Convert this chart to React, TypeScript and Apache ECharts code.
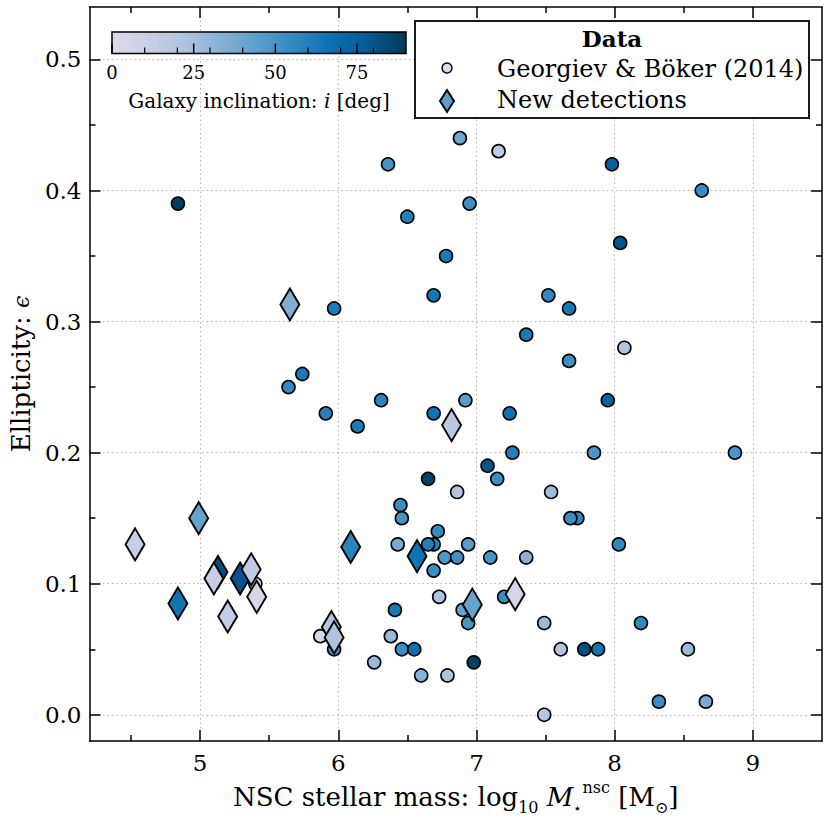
import React, { useEffect, useRef } from "react";
import * as echarts from "echarts";

// Georgiev & Böker (2014): log10 NSC mass, ellipticity, galaxy inclination [deg]
const gbMass = [4.84, 5.64, 5.74, 5.91, 5.97, 6.14, 6.31, 6.36, 6.50, 6.69, 6.78, 6.69, 6.92, 6.88, 6.95, 7.16, 7.24, 7.26, 7.36, 7.52, 7.67, 7.67, 7.98, 8.04, 8.63, 8.07, 7.95, 7.85, 8.87, 7.08, 7.15, 6.65, 6.86, 7.54, 7.73, 7.68, 6.72, 6.69, 6.65, 6.94, 6.45, 6.46, 6.43, 6.77, 6.86, 7.10, 7.36, 6.69, 6.73, 7.20, 6.90, 6.94, 7.49, 6.41, 6.38, 6.46, 6.55, 6.26, 6.60, 6.79, 6.98, 7.61, 7.78, 7.88, 8.03, 8.19, 8.53, 8.32, 8.66, 7.49, 5.87, 5.97, 5.40];
const gbEll = [0.39, 0.25, 0.26, 0.23, 0.31, 0.22, 0.24, 0.42, 0.38, 0.32, 0.35, 0.23, 0.24, 0.44, 0.39, 0.43, 0.23, 0.20, 0.29, 0.32, 0.31, 0.27, 0.42, 0.36, 0.40, 0.28, 0.24, 0.20, 0.20, 0.19, 0.18, 0.18, 0.17, 0.17, 0.15, 0.15, 0.14, 0.13, 0.13, 0.13, 0.16, 0.15, 0.13, 0.12, 0.12, 0.12, 0.12, 0.11, 0.09, 0.09, 0.08, 0.07, 0.07, 0.08, 0.06, 0.05, 0.05, 0.04, 0.03, 0.03, 0.04, 0.05, 0.05, 0.05, 0.13, 0.07, 0.05, 0.01, 0.01, 0.00, 0.06, 0.05, 0.10];
const gbInc = [88, 55, 63, 60, 62, 62, 58, 50, 60, 64, 63, 66, 45, 40, 52, 15, 67, 60, 63, 56, 63, 52, 75, 80, 53, 22, 74, 49, 49, 80, 53, 86, 22, 27, 55, 53, 55, 58, 60, 45, 53, 50, 37, 48, 52, 50, 33, 53, 22, 53, 42, 50, 28, 63, 28, 53, 67, 28, 33, 22, 88, 20, 82, 65, 56, 56, 28, 53, 37, 20, 3, 52, 8];

// New detections
const ndMass = [4.53, 4.99, 4.84, 5.13, 5.10, 5.29, 5.37, 5.41, 5.20, 5.65, 6.09, 6.57, 5.95, 5.97, 6.82, 6.97, 7.28];
const ndEll = [0.130, 0.150, 0.085, 0.109, 0.104, 0.104, 0.111, 0.090, 0.075, 0.313, 0.128, 0.121, 0.067, 0.059, 0.221, 0.084, 0.092];
const ndInc = [12, 42, 65, 82, 12, 80, 15, 3, 13, 35, 58, 66, 22, 22, 18, 42, 5];

const xMajorTicks = [5, 6, 7, 8, 9];
const xMinorTicks = [4.5, 5.5, 6.5, 7.5, 8.5];
const yMajorTicks = [0, 0.1, 0.2, 0.3, 0.4, 0.5];
const yMinorTicks = [0.05, 0.15, 0.25, 0.35, 0.45];
const cbarMajor = [0, 25, 50, 75];
const cbarMinor = [10, 20, 30, 40, 60, 70, 80];
const cbarMin = 0;
const cbarMax = 90;
const cmap = ["#dcdaeb", "#c8cfe5", "#aec3de", "#84b1d5", "#5a9dca", "#2f88bf", "#0a70b0", "#055990", "#023858"];

const FONT = "DejaVu Serif";
const XMIN = 4.2, XMAX = 9.5, YMIN = -0.02, YMAX = 0.54;

function makeX(position: string, ticks: number[], len: number, main: boolean, line: boolean) {
  return {
    type: "value",
    gridIndex: 0,
    position,
    min: XMIN,
    max: XMAX,
    axisLine: { show: line, onZero: false, lineStyle: { color: "#000", width: 1.5 } },
    axisTick: { show: true, inside: true, length: len, customValues: ticks, lineStyle: { color: "#000", width: 1.5 } },
    axisLabel: main
      ? { show: true, customValues: ticks, margin: 10, color: "#000", fontFamily: FONT, fontSize: 23 }
      : { show: false },
    splitLine: main
      ? { show: true, lineStyle: { color: "#b4b4b4", width: 1, type: [1.5, 3] } }
      : { show: false },
    minorTick: { show: false },
  } as any;
}

function makeY(position: string, ticks: number[], len: number, main: boolean, line: boolean) {
  return {
    type: "value",
    gridIndex: 0,
    position,
    min: YMIN,
    max: YMAX,
    axisLine: { show: line, onZero: false, lineStyle: { color: "#000", width: 1.5 } },
    axisTick: { show: true, inside: true, length: len, customValues: ticks, lineStyle: { color: "#000", width: 1.5 } },
    axisLabel: main
      ? {
          show: true,
          customValues: ticks,
          margin: 8,
          color: "#000",
          fontFamily: FONT,
          fontSize: 23,
          formatter: (v: number) => v.toFixed(1),
        }
      : { show: false },
    splitLine: main
      ? { show: true, lineStyle: { color: "#b4b4b4", width: 1, type: [1.5, 3] } }
      : { show: false },
    minorTick: { show: false },
  } as any;
}

export default function App() {
  const ref = useRef<HTMLDivElement>(null);

  useEffect(() => {
    document.body.style.margin = "0";
    if (!ref.current) return;
    const chart = echarts.init(ref.current, null, { renderer: "svg" });

    const gbData = gbMass.map((m, i) => [m, gbEll[i], gbInc[i]]);
    const ndData = ndMass.map((m, i) => [m, ndEll[i], ndInc[i]]);

    const xBottom = makeX("bottom", xMajorTicks, 11, true, true);
    xBottom.name = "{t|NSC stellar mass: log}{sub|10}{t| }{it|M}{star|⋆}{sup|nsc}{t| [M}{sub|⊙}{t|]}";
    xBottom.nameLocation = "middle";
    xBottom.nameGap = 38;
    xBottom.nameTextStyle = {
      color: "#000",
      rich: {
        t: { fontFamily: FONT, fontSize: 26, lineHeight: 36, color: "#000" },
        it: { fontFamily: FONT, fontSize: 26, lineHeight: 36, fontStyle: "italic", color: "#000" },
        sub: { fontFamily: FONT, fontSize: 16, lineHeight: 16, verticalAlign: "bottom", color: "#000" },
        star: { fontFamily: FONT, fontSize: 14, lineHeight: 16, verticalAlign: "bottom", color: "#000" },
        sup: { fontFamily: FONT, fontSize: 16, lineHeight: 16, verticalAlign: "top", color: "#000" },
      },
    };

    const yLeft = makeY("left", yMajorTicks, 11, true, true);
    yLeft.name = "{t|Ellipticity: }{e|ϵ}";
    yLeft.nameLocation = "middle";
    yLeft.nameGap = 50;
    yLeft.nameTextStyle = {
      color: "#000",
      rich: {
        t: { fontFamily: FONT, fontSize: 26, color: "#000" },
        e: { fontFamily: FONT, fontSize: 22, fontStyle: "italic", color: "#000" },
      },
    };

    const cbX = 112, cbY = 32, cbW = 294, cbH = 21.5;
    const cbPos = (v: number) => cbX + ((v - cbarMin) / (cbarMax - cbarMin)) * cbW;
    const gradStops = cmap.map((c, i) => ({ offset: i / (cmap.length - 1), color: c }));

    const graphic: any[] = [
      {
        type: "rect",
        z: 50,
        shape: { x: cbX, y: cbY, width: cbW, height: cbH },
        style: { fill: new echarts.graphic.LinearGradient(0, 0, 1, 0, gradStops), stroke: "#000", lineWidth: 1.5 },
      },
      ...cbarMajor.map((v) => ({
        type: "line",
        z: 51,
        shape: { x1: cbPos(v), y1: cbY + cbH, x2: cbPos(v), y2: cbY + cbH - 10 },
        style: { stroke: "#000", lineWidth: 1.5 },
      })),
      ...cbarMinor.map((v) => ({
        type: "line",
        z: 51,
        shape: { x1: cbPos(v), y1: cbY + cbH, x2: cbPos(v), y2: cbY + cbH - 6 },
        style: { stroke: "#000", lineWidth: 1.2 },
      })),
      ...cbarMajor.map((v) => ({
        type: "text",
        z: 51,
        x: cbPos(v),
        y: 72,
        style: { text: String(v), fontFamily: FONT, fontSize: 18, fill: "#000", align: "center", verticalAlign: "middle" },
      })),
      {
        type: "text",
        z: 51,
        x: 259,
        y: 101,
        style: {
          text: "{a|Galaxy inclination: }{i|i}{a| [deg]}",
          align: "center",
          verticalAlign: "middle",
          rich: {
            a: { fontFamily: FONT, fontSize: 20, fill: "#000", color: "#000" },
            i: { fontFamily: FONT, fontSize: 20, fontStyle: "italic", fill: "#000", color: "#000" },
          },
        },
      },
      // legend box
      {
        type: "rect",
        z: 100,
        shape: { x: 415, y: 21, width: 394, height: 97 },
        style: { fill: "#fff", stroke: "#1a1a1a", lineWidth: 2 },
      },
      {
        type: "text",
        z: 101,
        x: 612,
        y: 38,
        style: { text: "Data", fontFamily: FONT, fontSize: 23, fontWeight: "bold", fill: "#000", align: "center", verticalAlign: "middle" },
      },
      {
        type: "circle",
        z: 101,
        shape: { cx: 447, cy: 68, r: 5 },
        style: { fill: cmap[0], stroke: "#000", lineWidth: 1.5 },
      },
      {
        type: "text",
        z: 101,
        x: 497,
        y: 69,
        style: { text: "Georgiev & Böker (2014)", fontFamily: FONT, fontSize: 24, fill: "#000", align: "left", verticalAlign: "middle" },
      },
      {
        type: "polygon",
        z: 101,
        shape: { points: [[447, 90], [454, 101], [447, 112], [440, 101]] },
        style: { fill: cmap[4], stroke: "#000", lineWidth: 2 },
      },
      {
        type: "text",
        z: 101,
        x: 497,
        y: 100,
        style: { text: "New detections", fontFamily: FONT, fontSize: 24, fill: "#000", align: "left", verticalAlign: "middle" },
      },
    ];

    const option: any = {
      animation: false,
      backgroundColor: "#ffffff",
      textStyle: { fontFamily: FONT },
      grid: { left: 88, top: 7, width: 734, height: 734 },
      xAxis: [
        xBottom,
        makeX("bottom", xMinorTicks, 6, false, false),
        makeX("top", xMajorTicks, 11, false, true),
        makeX("top", xMinorTicks, 6, false, false),
      ],
      yAxis: [
        yLeft,
        makeY("left", yMinorTicks, 6, false, false),
        makeY("right", yMajorTicks, 11, false, true),
        makeY("right", yMinorTicks, 6, false, false),
      ],
      visualMap: {
        type: "continuous",
        show: false,
        min: cbarMin,
        max: cbarMax,
        dimension: 2,
        seriesIndex: [0, 1],
        inRange: { color: cmap },
      },
      series: [
        {
          name: "Georgiev & Böker (2014)",
          type: "scatter",
          xAxisIndex: 0,
          yAxisIndex: 0,
          symbol: "circle",
          symbolSize: 13,
          data: gbData,
          itemStyle: { borderColor: "#000", borderWidth: 1.6, opacity: 1 },
          z: 3,
        },
        {
          name: "New detections",
          type: "scatter",
          xAxisIndex: 0,
          yAxisIndex: 0,
          symbol: "diamond",
          symbolSize: [19, 32],
          data: ndData,
          itemStyle: { borderColor: "#000", borderWidth: 2, opacity: 1 },
          z: 4,
        },
      ],
      graphic,
    };

    chart.setOption(option);
    return () => chart.dispose();
  }, []);

  return <div ref={ref} style={{ width: 830, height: 820 }} />;
}
